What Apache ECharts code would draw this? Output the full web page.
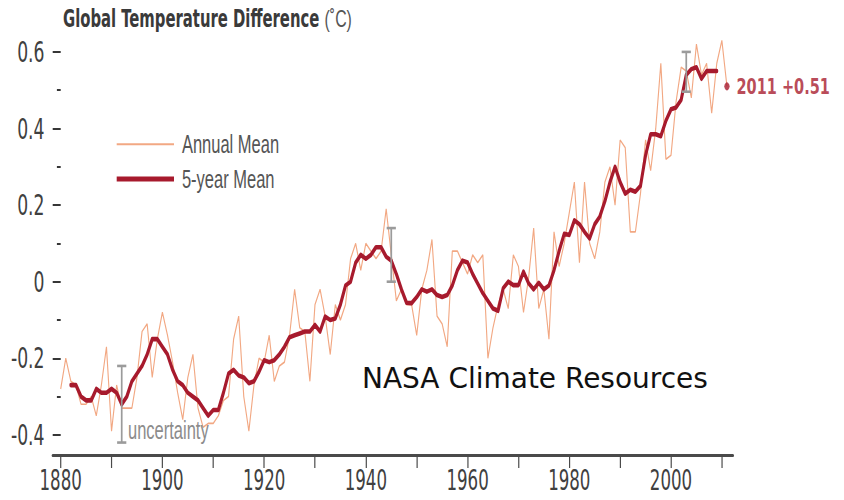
<!DOCTYPE html>
<html>
<head>
<meta charset="utf-8">
<title>Global Temperature Difference</title>
<script src="https://cdn.jsdelivr.net/npm/echarts@6/dist/echarts.min.js"></script>
<style>
  html, body { margin: 0; padding: 0; background: #fff; overflow: hidden; width: 844px; height: 500px; }
  /* The chart is laid out wide and then compressed horizontally,
     which gives the tall, narrow lettering and slim vertical strokes. */
  #chart { width: 1279px; height: 500px; transform: scaleX(0.66); transform-origin: 0 0; }
</style>
</head>
<body>
<div id="chart"></div>
<script>
// ---- data -------------------------------------------------------------
const annualStartYear = 1880;
// Annual global temperature difference (°C), 1880–2011
const annualMean = [
  -0.28, -0.20, -0.26, -0.27, -0.32, -0.32, -0.30, -0.35, -0.27, -0.17,
  -0.39, -0.27, -0.33, -0.33, -0.33, -0.25, -0.13, -0.11, -0.25, -0.15,
  -0.08, -0.14, -0.21, -0.29, -0.36, -0.25, -0.19, -0.33, -0.38, -0.37,
  -0.37, -0.35, -0.31, -0.30, -0.15, -0.09, -0.30, -0.39, -0.27, -0.20,
  -0.21, -0.14, -0.26, -0.22, -0.21, -0.14, -0.02, -0.12, -0.13, -0.26,
  -0.06, -0.02, -0.09, -0.19, -0.06, -0.10, -0.06,  0.06,  0.10,  0.03,
   0.10,  0.08,  0.06,  0.08,  0.19,  0.07, -0.05, -0.02, -0.06, -0.06,
  -0.14, -0.02,  0.03,  0.11, -0.09, -0.11, -0.17,  0.08,  0.08,  0.05,
   0.02,  0.07,  0.05,  0.07, -0.20, -0.12, -0.06, -0.02, -0.07,  0.07,
   0.04, -0.08,  0.01,  0.14, -0.07, -0.02, -0.15,  0.13,  0.04,  0.10,
   0.18,  0.26,  0.05,  0.26,  0.10,  0.06,  0.13,  0.26,  0.30,  0.20,
   0.37,  0.35,  0.13,  0.13,  0.23,  0.37,  0.29,  0.40,  0.57,  0.32,
   0.33,  0.47,  0.56,  0.55,  0.48,  0.62,  0.54,  0.57,  0.44,  0.57,
   0.63,  0.51
];

const fiveYearStartYear = 1882;
// Five-year running mean (°C), 1882–2009
const fiveYearMean = [
  -0.27, -0.27, -0.30, -0.31, -0.31, -0.28, -0.29, -0.29,
  -0.28, -0.29, -0.32, -0.30, -0.26, -0.24, -0.22, -0.19, -0.15, -0.15,
  -0.17, -0.19, -0.23, -0.26, -0.27, -0.29, -0.30, -0.31, -0.33, -0.35,
  -0.335, -0.335, -0.29, -0.24, -0.23, -0.245, -0.25, -0.265, -0.26, -0.235,
  -0.205, -0.21, -0.205, -0.19, -0.17, -0.145, -0.14, -0.135, -0.13, -0.13,
  -0.113, -0.13, -0.091, -0.10, -0.096, -0.06, -0.01, 0.00, 0.05, 0.07,
   0.06, 0.07, 0.09, 0.09, 0.065, 0.055, 0.02, -0.02, -0.055, -0.056,
  -0.04, -0.02, -0.026, -0.02, -0.035, -0.04, -0.035, -0.01, 0.03, 0.055,
   0.05, 0.02, -0.005, -0.03, -0.05, -0.07, -0.076, -0.017, 0.00, -0.009,
  -0.009, 0.026, -0.004, -0.02, -0.003, -0.02, -0.01, 0.03, 0.08, 0.125,
   0.122, 0.16, 0.15, 0.13, 0.113, 0.15, 0.17, 0.21, 0.26, 0.30,
   0.26, 0.23, 0.24, 0.235, 0.25, 0.33, 0.385, 0.385, 0.38, 0.42,
   0.45, 0.455, 0.475, 0.54, 0.555, 0.56, 0.53, 0.55, 0.55, 0.55
];

// Uncertainty ranges shown as I-beams
const uncertaintyYears  = [1892, 1945, 2003];
const uncertaintyCenter = [-0.32, 0.07, 0.548];
const uncertaintyHalf   = [0.10, 0.07, 0.052];
const uncertaintyNotes  = ['uncertainty', '', ''];

// Axis ticks and labels
const xTickYears  = [1880, 1890, 1900, 1910, 1920, 1930, 1940, 1950, 1960, 1970, 1980, 1990, 2000, 2010];
const xLabelYears = [1880, 1900, 1920, 1940, 1960, 1980, 2000];
const yMajorTicks = [-0.4, -0.2, 0, 0.2, 0.4, 0.6];
const yMinorTicks = [-0.3, -0.1, 0.1, 0.3, 0.5];

// ---- layout -----------------------------------------------------------
const S = 0.66;                       // horizontal compression of the page
const W = 1279;                       // layout width before compression
const sx = v => v / S;                // on-screen horizontal px -> layout px

const NARROW = "'Liberation Sans Narrow', 'Arial Narrow', 'DejaVu Sans Condensed', sans-serif";
const SANS = "'Liberation Sans', Arial, sans-serif";
const ANNUAL_COLOR = '#f2a883';
const MEAN_COLOR = '#a71a2d';
const UNC_COLOR = '#9b9b9b';

const annualPairs = annualMean.map((v, i) => [annualStartYear + i, v]);
const fiveYearPairs = fiveYearMean.map((v, i) => [fiveYearStartYear + i, v]);
const lastPoint = annualPairs[annualPairs.length - 1];
const uncertaintyData = uncertaintyYears.map((y, i) => [y, uncertaintyCenter[i], uncertaintyHalf[i]]);

const chart = echarts.init(document.getElementById('chart'), null, { renderer: 'svg' });

function renderUncertainty(params, api) {
  const yr = api.value(0), c = api.value(1), h = api.value(2);
  const top = api.coord([yr, c + h]);
  const bot = api.coord([yr, c - h]);
  const cap = sx(4.6);
  const lineStyle = { stroke: UNC_COLOR, lineWidth: 2.6, fill: null };
  const children = [
    { type: 'line', shape: { x1: top[0], y1: top[1], x2: bot[0], y2: bot[1] }, style: lineStyle },
    { type: 'line', shape: { x1: top[0] - cap, y1: top[1], x2: top[0] + cap, y2: top[1] }, style: lineStyle },
    { type: 'line', shape: { x1: bot[0] - cap, y1: bot[1], x2: bot[0] + cap, y2: bot[1] }, style: lineStyle }
  ];
  const note = uncertaintyNotes[params.dataIndex];
  if (note) {
    children.push({
      type: 'text',
      x: bot[0] + sx(6.3),
      y: bot[1] - 12,
      style: { text: note, fontFamily: SANS, fontSize: 25, fill: '#8c8c8c', align: 'left', verticalAlign: 'middle' }
    });
  }
  return { type: 'group', children };
}

const option = {
  animation: false,
  backgroundColor: '#ffffff',
  title: {
    text: '{b|Global Temperature Difference} {n|(˚C)}',
    left: sx(63),
    top: 6,
    padding: 0,
    textStyle: {
      fontFamily: NARROW, fontSize: 25, color: '#3a3a3a',
      rich: {
        b: { fontFamily: NARROW, fontWeight: 'bold', fontSize: 25, color: '#3a3a3a' },
        n: { fontFamily: SANS, fontWeight: 'normal', fontSize: 24, color: '#555555' }
      }
    }
  },
  legend: [
    {
      data: ['Annual Mean'],
      left: sx(116.7), top: 131.8, padding: 0, itemGap: 0,
      icon: 'rect', itemWidth: sx(57.3), itemHeight: 2,
      itemStyle: { borderWidth: 0 },
      selectedMode: false,
      textStyle: { fontFamily: SANS, fontSize: 25, color: '#555555', padding: [0, 0, 0, 7] }
    },
    {
      data: ['5-year Mean'],
      left: sx(116.7), top: 166.5, padding: 0, itemGap: 0,
      icon: 'rect', itemWidth: sx(57.3), itemHeight: 5,
      itemStyle: { borderWidth: 0 },
      selectedMode: false,
      textStyle: { fontFamily: SANS, fontSize: 25, color: '#555555', padding: [0, 0, 0, 7] }
    }
  ],
  grid: {
    left: sx(52.7),
    right: W - sx(733),
    top: 32.75,
    bottom: 45,
    containLabel: false,
    outerBoundsMode: 'none'
  },
  xAxis: {
    type: 'value',
    min: 1878.43,
    max: 2012.19,
    axisLine: { show: true, onZero: false, lineStyle: { color: '#4a4a4a', width: 3 } },
    axisTick: { show: true, customValues: xTickYears, length: 13, lineStyle: { color: '#4a4a4a', width: 1.8 } },
    axisLabel: {
      customValues: xLabelYears,
      formatter: v => String(v),
      fontFamily: NARROW, fontSize: 28, lineHeight: 28, color: '#404040', margin: 12
    },
    splitLine: { show: false }
  },
  yAxis: [
    {
      type: 'value',
      min: -0.4525,
      max: 0.65,
      position: 'left',
      offset: -sx(8),
      axisLine: { show: false, onZero: false },
      axisTick: { show: true, customValues: yMajorTicks, length: sx(8), lineStyle: { color: '#363636', width: 2 } },
      axisLabel: {
        customValues: yMajorTicks,
        formatter: v => (v === 0 ? '0' : v.toFixed(1)),
        fontFamily: NARROW, fontSize: 29, color: '#404040', margin: sx(16.2)
      },
      splitLine: { show: false }
    },
    {
      type: 'value',
      min: -0.4525,
      max: 0.65,
      position: 'left',
      offset: -sx(8),
      axisLine: { show: false, onZero: false },
      axisTick: { show: true, customValues: yMinorTicks, length: sx(3.8), lineStyle: { color: '#363636', width: 2 } },
      axisLabel: { show: false },
      splitLine: { show: false }
    }
  ],
  graphic: [
    {
      type: 'text',
      x: sx(362),
      y: 378,
      scaleX: 1 / S,
      z: 100,
      style: {
        text: 'NASA Climate Resources',
        fontFamily: "'DejaVu Sans', Verdana, sans-serif",
        fontSize: 28,
        fill: '#111111',
        align: 'left',
        verticalAlign: 'middle'
      }
    }
  ],
  series: [
    {
      name: 'Annual Mean',
      type: 'line',
      data: annualPairs,
      symbol: 'none',
      showSymbol: false,
      silent: true,
      z: 2,
      itemStyle: { color: ANNUAL_COLOR },
      lineStyle: { color: ANNUAL_COLOR, width: 1.7 }
    },
    {
      name: '5-year Mean',
      type: 'line',
      data: fiveYearPairs,
      symbol: 'none',
      showSymbol: false,
      silent: true,
      z: 3,
      itemStyle: { color: MEAN_COLOR },
      lineStyle: { color: MEAN_COLOR, width: 4.6, join: 'round', cap: 'round' }
    },
    {
      type: 'custom',
      data: uncertaintyData,
      renderItem: renderUncertainty,
      silent: true,
      z: 5
    },
    {
      type: 'scatter',
      data: [lastPoint],
      symbol: 'circle',
      symbolSize: 8,
      silent: true,
      z: 6,
      itemStyle: { color: MEAN_COLOR },
      label: {
        show: true,
        position: 'right',
        distance: 10.5,
        formatter: p => p.value[0] + ' +' + p.value[1].toFixed(2),
        fontFamily: "'DejaVu Sans', sans-serif",
        fontWeight: 'bold',
        fontSize: 22,
        color: MEAN_COLOR
      }
    }
  ]
};

chart.setOption(option);
</script>
</body>
</html>
